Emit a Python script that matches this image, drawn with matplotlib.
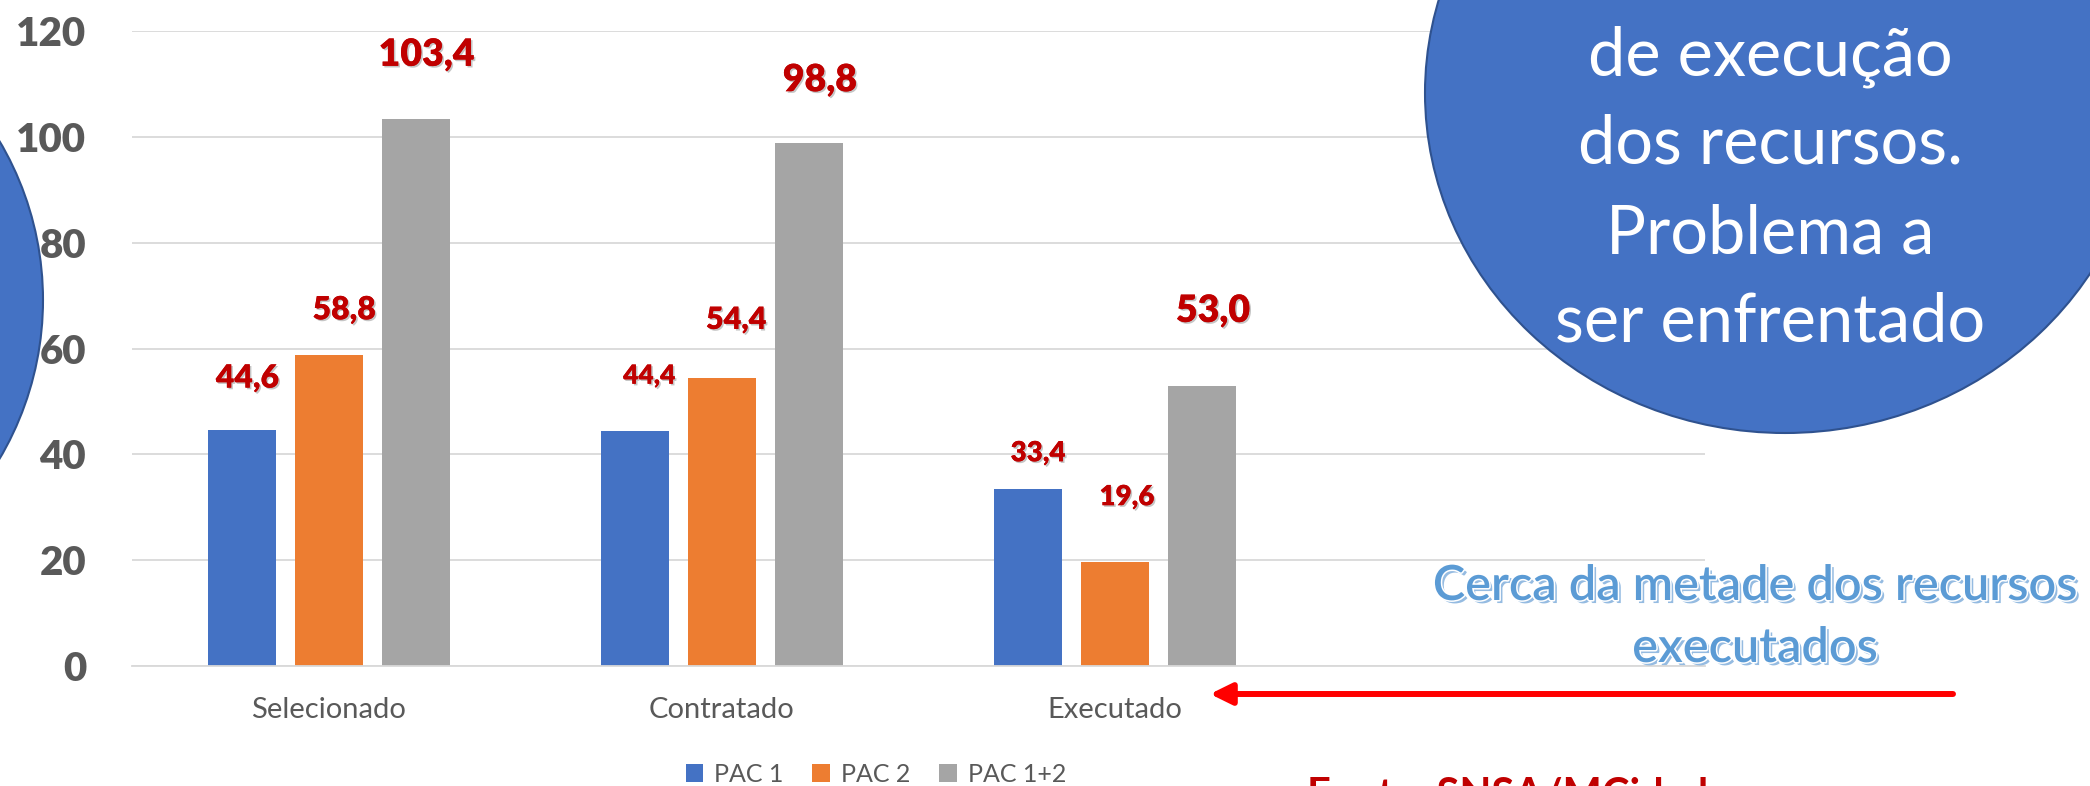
import matplotlib
matplotlib.use("Agg")
import matplotlib.pyplot as plt
import matplotlib.patches as mpatches
import matplotlib.patheffects as pe
import numpy as np

plt.rcParams['font.family'] = ['Lato', 'DejaVu Sans']

# data ---------------------------------------------------------------
categories = ['Selecionado', 'Contratado', 'Executado']
series = ['PAC 1', 'PAC 2', 'PAC 1+2']
pac1 = [44.6, 44.4, 33.4]
pac2 = [58.8, 54.4, 19.6]
pac12 = [103.4, 98.8, 53.0]
yticks = [0, 20, 40, 60, 80, 100, 120]

circle_lines = ['de execução', 'dos recursos.', 'Problema a', 'ser enfrentado']
note_lines = ['Cerca da metade dos recursos', 'executados']
source = 'Fonte: SNSA/MCidades'

# layout / style (label placement was done by hand in the original)
colors = ['#4472C4', '#ED7D31', '#A5A5A5']
lab_dy = [[9.8, 10.4, 6.8], [8.5, 11.0, 12.3], [12.1, 11.9, 14.1]]
lab_dx = [[0.015, 0.036, 0.025], [0.04, 0.036, 0.03], [0.028, 0.028, 0.028]]
lab_size = [[23, 19, 20], [23, 22, 20], [27, 27, 27]]

W, H = 2090, 786
fig = plt.figure(figsize=(W / 100, H / 100), dpi=100, facecolor='white')


def fx(px):
    return px / W


def fy(py):
    # pixel measured from the top -> figure fraction
    return (H - py) / H


ax = fig.add_axes([fx(132), fy(666), fx(1705) - fx(132), fy(31) - fy(666)])

x = np.arange(len(categories))
bw = 0.173
step = 0.221
for i, vals in enumerate([pac1, pac2, pac12]):
    xs = x + (i - 1) * step
    ax.bar(xs, vals, width=bw, color=colors[i], label=series[i], zorder=2)
    for j, v in enumerate(vals):
        ax.text(xs[j] + lab_dx[i][j], v + lab_dy[i][j], f'{v:.1f}'.replace('.', ','),
                ha='center', va='center', color='#C00000', fontweight='heavy',
                fontsize=lab_size[i][j], zorder=5,
                path_effects=[pe.withSimplePatchShadow(offset=(1.2, -1.2), shadow_rgbFace='#808080', alpha=0.45),
                              pe.Normal()])

ax.set_xlim(-0.5, 3.5)
ax.set_ylim(0, 120)
ax.set_yticks(yticks)
ax.set_yticklabels([str(t) for t in yticks], fontsize=29, fontweight='heavy', color='#595959')
ax.set_xticks(x)
ax.set_xticklabels(categories, fontsize=21, color='#595959')
ax.tick_params(axis='y', length=0, pad=33)
ax.tick_params(axis='x', length=0, pad=22)
ax.grid(axis='y', color='#D9D9D9', lw=1.3, zorder=0)
ax.set_axisbelow(True)
for s in ['top', 'right', 'left']:
    ax.spines[s].set_visible(False)
ax.spines['bottom'].set_color('#D9D9D9')
ax.spines['bottom'].set_linewidth(1.3)

leg = fig.legend(loc='center', bbox_to_anchor=(fx(876), fy(774)), ncol=3, frameon=False,
                 fontsize=18, handlelength=0.7, handleheight=0.7, handletextpad=0.45,
                 columnspacing=1.15, borderpad=0)
for t in leg.get_texts():
    t.set_color('#595959')

# shapes drawn over the chart
inch = fig.dpi_scale_trans
left_circ = mpatches.Circle((-269 / 100, (H - 300) / 100), 312 / 100, transform=inch,
                            facecolor='#4472C4', edgecolor='#2F528F', lw=1.5, zorder=3)
right_circ = mpatches.Ellipse((1785 / 100, (H - 93) / 100), 720 / 100, 680 / 100, transform=inch,
                              facecolor='#4472C4', edgecolor='#2F528F', lw=1.5, zorder=3)
fig.add_artist(left_circ)
fig.add_artist(right_circ)

for k, line in enumerate(circle_lines):
    fig.text(fx(1770), fy(75 + k * 89), line, ha='center', va='baseline',
             fontsize=48, color='white', zorder=4)

note_fx = [pe.withSimplePatchShadow(offset=(2.2, -2.2), shadow_rgbFace='#8FB8E0', alpha=0.95),
           pe.Stroke(linewidth=2.2, foreground='white'), pe.Normal()]
for k, line in enumerate(note_lines):
    fig.text(fx(1755), fy(600 + k * 62), line, ha='center', va='baseline',
             fontsize=35, fontweight='semibold', color='#5B9BD5', zorder=4, path_effects=note_fx)

ax.annotate('', xy=(1210, H - 694), xycoords='figure pixels',
            xytext=(1953, H - 694), textcoords='figure pixels',
            arrowprops=dict(arrowstyle='-|>,head_length=0.65,head_width=0.32', color='#FF0000',
                            lw=4.3, mutation_scale=20, shrinkA=0, shrinkB=0),
            annotation_clip=False)

fig.text(fx(1307), fy(777), source, ha='left', va='top', fontsize=30,
         fontweight='bold', color='#C00000')

fig.savefig('out.png', dpi=100)
